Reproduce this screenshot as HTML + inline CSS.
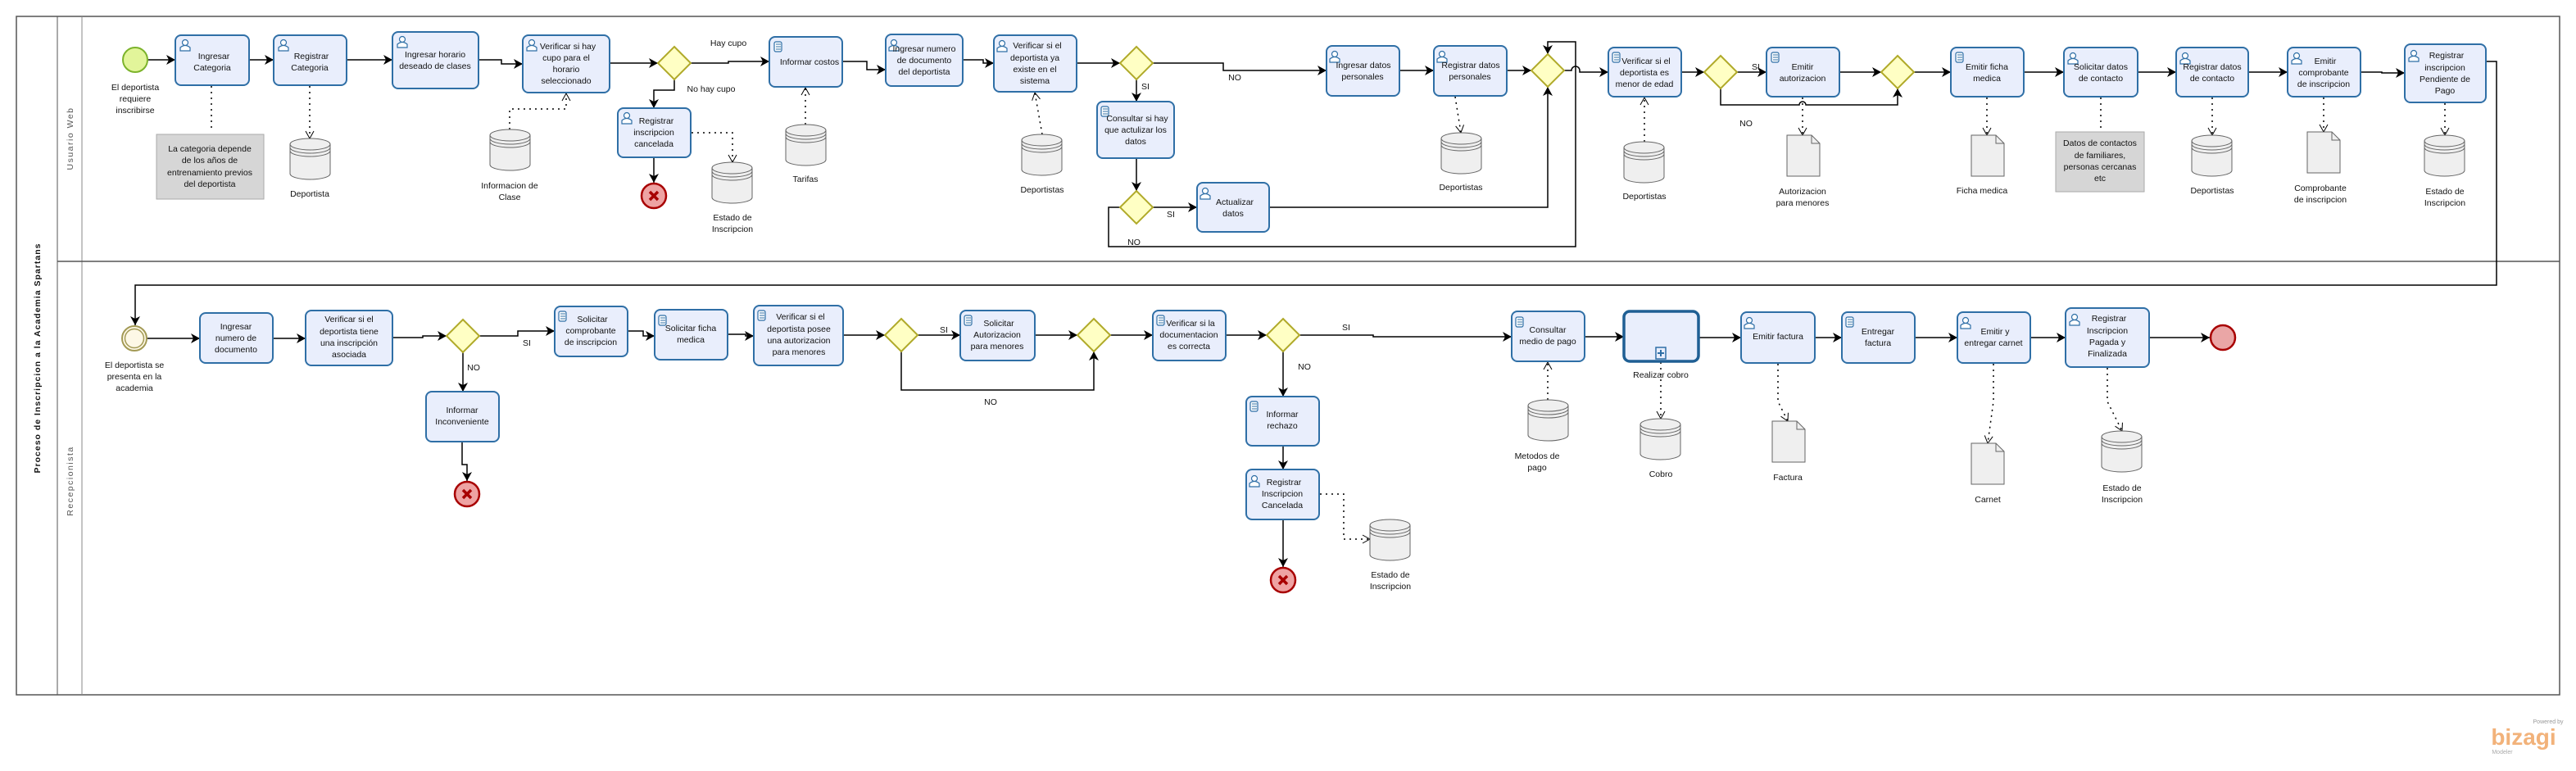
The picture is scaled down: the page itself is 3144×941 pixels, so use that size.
<!DOCTYPE html>
<html><head><meta charset="utf-8"><style>
body{margin:0;background:#fff}
svg{display:block}
text{font-family:"Liberation Sans",sans-serif;font-size:10.5px;fill:#111;text-anchor:middle}
.tk{fill:#e9eefc;stroke:#2f6fa6;stroke-width:2}
.gw{fill:#ffffc4;stroke:#b0aa2a;stroke-width:2}
.fl{fill:none;stroke:#000;stroke-width:1.5;marker-end:url(#ar)}
.fn{fill:none;stroke:#000;stroke-width:1.5}
.as{fill:none;stroke:#000;stroke-width:1.5;stroke-dasharray:2 5}
.asa{fill:none;stroke:#000;stroke-width:1.5;stroke-dasharray:2 5;marker-end:url(#oa)}
</style></head><body>
<svg width="3144" height="941" viewBox="0 0 3144 941" xmlns="http://www.w3.org/2000/svg">
<defs>
<marker id="ar" markerUnits="userSpaceOnUse" markerWidth="12" markerHeight="12" refX="11" refY="6" orient="auto"><path d="M0,0 L11,6 L0,12 L3,6z" fill="#000"/></marker>
<marker id="oa" markerUnits="userSpaceOnUse" markerWidth="12" markerHeight="12" refX="10" refY="6" orient="auto"><path d="M1,1 L10,6 L1,11" fill="none" stroke="#000" stroke-width="1"/></marker>
<g id="db"><path d="M0,7 v36 a24.5,7 0 0 0 49,0 v-36" fill="#efefef" stroke="#666"/><ellipse cx="24.5" cy="7" rx="24.5" ry="7" fill="#efefef" stroke="#666"/><path d="M0,11 a24.5,7 0 0 0 49,0 M0,15 a24.5,7 0 0 0 49,0" fill="none" stroke="#666"/></g>
<g id="doc"><path d="M0,0 h30 l10,10 v40 h-40z" fill="#efefef" stroke="#666"/><path d="M30,0 v10 h10" fill="none" stroke="#666"/></g>
<g id="usr"><circle cx="7" cy="5" r="3.5" fill="#fff" stroke="#2f6fa6" stroke-width="1.2"/><path d="M1,15 v-4 q6,-5 12,0 v4z" fill="#fff" stroke="#2f6fa6" stroke-width="1.2"/></g>
<g id="scr"><rect x="2" y="1" width="9" height="12" rx="2" fill="#fff" stroke="#2f6fa6" stroke-width="1.2"/><path d="M4,4h6M4,7h6M4,10h6" stroke="#2f6fa6" stroke-width="1"/></g>
<g id="end"><circle r="15" fill="#eea3a3" stroke="#a80000" stroke-width="2.5"/><path d="M-5,-5 L5,5 M5,-5 L-5,5" stroke="#a80000" stroke-width="3.5"/></g>
</defs>

<!-- pool -->
<rect x="20" y="20" width="3104" height="828" fill="none" stroke="#555" stroke-width="1.5"/>
<line x1="70" y1="20" x2="70" y2="848" stroke="#555"/>
<line x1="100" y1="20" x2="100" y2="848" stroke="#888"/>
<line x1="70" y1="319" x2="3124" y2="319" stroke="#555" stroke-width="1.5"/>
<text transform="translate(49,437) rotate(-90)" style="font-weight:bold;font-size:10.5px;letter-spacing:1px">Proceso de Inscripcion a la Academia Spartans</text>
<text transform="translate(89,169) rotate(-90)" style="fill:#555;letter-spacing:1.5px">Usuario Web</text>
<text transform="translate(89,587) rotate(-90)" style="fill:#555;letter-spacing:1.5px">Recepcionista</text>

<!-- lane 1 flows -->
<path class="fl" d="M181,73 H214"/>
<path class="fl" d="M304,73 H334"/>
<path class="fl" d="M423,73 H479"/>
<path class="fl" d="M584,73 H612 V78 H638"/>
<path class="fl" d="M744,77 H803"/>
<path class="fl" d="M843,77 H889 V75 H939"/>
<path class="fl" d="M823,97 V110 H798 V132"/>
<path class="fl" d="M798,192 V223"/>
<path class="fl" d="M1028,75 H1058 V85 H1081"/>
<path class="fl" d="M1175,73 H1200 V77 H1213"/>
<path class="fl" d="M1314,77 H1367"/>
<path class="fl" d="M1407,77 H1493 V86 H1619"/>
<path class="fl" d="M1387,97 V124"/>
<path class="fl" d="M1387,193 V233"/>
<path class="fl" d="M1407,253 H1461"/>
<path class="fl" d="M1549,253 H1889 V106"/>
<path class="fl" d="M1367,253 H1353 V301 H1923 V51 H1889 V66"/>
<path class="fl" d="M1708,86 H1750"/>
<path class="fl" d="M1839,86 H1869"/>
<path class="fl" d="M1909,86 H1918 A5,5 0 0 1 1928,86 V88 H1963"/>
<path class="fl" d="M2052,88 H2080"/>
<path class="fl" d="M2120,88 H2156"/>
<path class="fl" d="M2100,108 V128 H2196 A4,4 0 0 1 2204,128 H2316 V108"/>
<path class="fl" d="M2245,88 H2296"/>
<path class="fl" d="M2336,88 H2381"/>
<path class="fl" d="M2470,88 H2519"/>
<path class="fl" d="M2609,88 H2656"/>
<path class="fl" d="M2744,88 H2792"/>
<path class="fl" d="M2881,88 H2907 V89 H2935"/>
<path class="fl" d="M3034,75 H3047 V348 H165 V397"/>

<!-- lane 1 associations -->
<path class="as" d="M258,105 V160"/>
<path class="asa" d="M378,105 V169"/>
<path class="asa" d="M622,158 V133 H691 V114"/>
<path class="asa" d="M844,162 H894 V198"/>
<path class="asa" d="M983,152 V107"/>
<path class="asa" d="M1272,164 L1263,113"/>
<path class="asa" d="M1776,118 L1783,162"/>
<path class="asa" d="M2007,173 V119"/>
<path class="asa" d="M2200,119 V165"/>
<path class="asa" d="M2425,119 V165"/>
<path class="as" d="M2564,119 V158"/>
<path class="asa" d="M2700,119 V165"/>
<path class="asa" d="M2836,119 V161"/>
<path class="asa" d="M2984,126 V165"/>

<!-- lane 1 shapes -->
<circle cx="165" cy="73" r="15" fill="#e2f59a" stroke="#7cb32b" stroke-width="2"/>
<text x="165" y="110">El deportista</text><text x="165" y="124">requiere</text><text x="165" y="138">inscribirse</text>

<rect class="tk" x="214" y="43" width="90" height="61" rx="7"/><use href="#usr" x="219" y="47"/><text x="261" y="72">Ingresar</text><text x="259" y="86">Categoria</text>
<rect class="tk" x="334" y="43" width="89" height="61" rx="7"/><use href="#usr" x="339" y="47"/><text x="380" y="72">Registrar</text><text x="378" y="86">Categoria</text>
<rect class="tk" x="479" y="39" width="105" height="69" rx="7"/><use href="#usr" x="484" y="43"/><text x="531" y="70">Ingresar horario</text><text x="531" y="84">deseado de clases</text>
<rect class="tk" x="638" y="43" width="106" height="70" rx="7"/><use href="#usr" x="642" y="47"/><text x="693" y="60">Verificar si hay</text><text x="691" y="74">cupo para el</text><text x="691" y="88">horario</text><text x="691" y="102">seleccionado</text>
<path class="gw" d="M823,57 L843,77 L823,97 L803,77z"/>
<text x="889" y="56">Hay cupo</text><text x="868" y="112">No hay cupo</text>
<rect class="tk" x="754" y="132" width="89" height="60" rx="7"/><use href="#usr" x="758" y="136"/><text x="801" y="151">Registrar</text><text x="798" y="165">inscripcion</text><text x="798" y="179">cancelada</text>
<use href="#end" x="798" y="239"/>
<rect class="tk" x="939" y="45" width="89" height="61" rx="7"/><use href="#scr" x="943" y="50"/><text x="988" y="79">Informar costos</text>
<rect class="tk" x="1081" y="42" width="94" height="63" rx="7"/><use href="#usr" x="1084" y="47"/><text x="1128" y="63">Ingresar numero</text><text x="1128" y="77">de documento</text><text x="1128" y="91">del deportista</text>
<rect class="tk" x="1213" y="43" width="101" height="69" rx="7"/><use href="#usr" x="1216" y="48"/><text x="1266" y="59">Verificar si el</text><text x="1263" y="74">deportista ya</text><text x="1263" y="88">existe en el</text><text x="1263" y="102">sistema</text>
<path class="gw" d="M1387,57 L1407,77 L1387,97 L1367,77z"/>
<text x="1507" y="98">NO</text><text x="1398" y="109">SI</text>
<rect class="tk" x="1339" y="124" width="94" height="69" rx="7"/><use href="#scr" x="1342" y="129"/><text x="1388" y="148">Consultar si hay</text><text x="1386" y="162">que actulizar los</text><text x="1386" y="176">datos</text>
<path class="gw" d="M1387,233 L1407,253 L1387,273 L1367,253z"/>
<text x="1429" y="265">SI</text><text x="1384" y="299">NO</text>
<rect class="tk" x="1461" y="223" width="88" height="60" rx="7"/><use href="#usr" x="1464" y="228"/><text x="1507" y="250">Actualizar</text><text x="1505" y="264">datos</text>
<rect class="tk" x="1619" y="56" width="89" height="61" rx="7"/><use href="#usr" x="1622" y="61"/><text x="1664" y="83">Ingresar datos</text><text x="1663" y="97">personales</text>
<rect class="tk" x="1750" y="56" width="89" height="61" rx="7"/><use href="#usr" x="1753" y="61"/><text x="1795" y="83">Registrar datos</text><text x="1794" y="97">personales</text>
<path class="gw" d="M1889,66 L1909,86 L1889,106 L1869,86z"/>
<rect class="tk" x="1963" y="58" width="89" height="60" rx="7"/><use href="#scr" x="1966" y="63"/><text x="2009" y="78">Verificar si el</text><text x="2007" y="92">deportista es</text><text x="2007" y="106">menor de edad</text>
<path class="gw" d="M2100,68 L2120,88 L2100,108 L2080,88z"/>
<text x="2143" y="85">SI</text><text x="2131" y="154">NO</text>
<rect class="tk" x="2156" y="58" width="89" height="60" rx="7"/><use href="#scr" x="2160" y="63"/><text x="2200" y="85">Emitir</text><text x="2200" y="99">autorizacion</text>
<path class="gw" d="M2316,68 L2336,88 L2316,108 L2296,88z"/>
<rect class="tk" x="2381" y="58" width="89" height="60" rx="7"/><use href="#scr" x="2385" y="63"/><text x="2425" y="85">Emitir ficha</text><text x="2425" y="99">medica</text>
<rect class="tk" x="2519" y="58" width="90" height="60" rx="7"/><use href="#usr" x="2523" y="63"/><text x="2564" y="85">Solicitar datos</text><text x="2564" y="99">de contacto</text>
<rect class="tk" x="2656" y="58" width="88" height="60" rx="7"/><use href="#usr" x="2660" y="63"/><text x="2700" y="85">Registrar datos</text><text x="2700" y="99">de contacto</text>
<rect class="tk" x="2792" y="58" width="89" height="60" rx="7"/><use href="#usr" x="2796" y="63"/><text x="2838" y="78">Emitir</text><text x="2836" y="92">comprobante</text><text x="2836" y="106">de inscripcion</text>
<rect class="tk" x="2935" y="54" width="99" height="71" rx="7"/><use href="#usr" x="2939" y="60"/><text x="2986" y="71">Registrar</text><text x="2984" y="86">inscripcion</text><text x="2984" y="100">Pendiente de</text><text x="2984" y="114">Pago</text>

<rect x="191" y="164" width="131" height="79" fill="#d6d6d6" stroke="#aaa"/>
<text x="256" y="185">La categoria depende</text><text x="256" y="199">de los años de</text><text x="256" y="214">entrenamiento previos</text><text x="256" y="228">del deportista</text>
<use href="#db" x="354" y="169"/><text x="378" y="240">Deportista</text>
<use href="#db" x="598" y="158"/><text x="622" y="230">Informacion de</text><text x="622" y="244">Clase</text>
<use href="#db" x="869" y="198"/><text x="894" y="269">Estado de</text><text x="894" y="283">Inscripcion</text>
<use href="#db" x="959" y="152"/><text x="983" y="222">Tarifas</text>
<use href="#db" x="1247" y="164"/><text x="1272" y="235">Deportistas</text>
<use href="#db" x="1759" y="162"/><text x="1783" y="232">Deportistas</text>
<use href="#db" x="1982" y="173"/><text x="2007" y="243">Deportistas</text>
<use href="#doc" x="2181" y="165"/><text x="2200" y="237">Autorizacion</text><text x="2200" y="251">para menores</text>
<use href="#doc" x="2406" y="165"/><text x="2419" y="236">Ficha medica</text>
<rect x="2509" y="161" width="108" height="73" fill="#d6d6d6" stroke="#aaa"/>
<text x="2563" y="178">Datos de contactos</text><text x="2563" y="193">de familiares,</text><text x="2563" y="207">personas cercanas</text><text x="2563" y="221">etc</text>
<use href="#db" x="2675" y="165"/><text x="2700" y="236">Deportistas</text>
<use href="#doc" x="2816" y="161"/><text x="2832" y="233">Comprobante</text><text x="2832" y="247">de inscripcion</text>
<use href="#db" x="2959" y="165"/><text x="2984" y="237">Estado de</text><text x="2984" y="251">Inscripcion</text>

<!-- lane 2 flows -->
<path class="fl" d="M179,413 H244"/>
<path class="fl" d="M333,413 H373"/>
<path class="fl" d="M479,412 H516 V410 H545"/>
<path class="fl" d="M585,410 H632 V404 H677"/>
<path class="fl" d="M565,430 V478"/>
<path class="fl" d="M564,539 V567 H570 V587"/>
<path class="fl" d="M766,404 H785 V410 H799"/>
<path class="fl" d="M888,408 H910 V410 H920"/>
<path class="fl" d="M1029,409 H1080"/>
<path class="fl" d="M1120,409 H1172"/>
<path class="fl" d="M1263,409 H1315"/>
<path class="fl" d="M1100,429 V476 H1335 V429"/>
<path class="fl" d="M1355,409 H1407"/>
<path class="fl" d="M1496,409 H1546"/>
<path class="fl" d="M1586,409 H1676 V411 H1845"/>
<path class="fl" d="M1566,429 V484"/>
<path class="fl" d="M1566,544 V573"/>
<path class="fl" d="M1566,634 V692"/>
<path class="fl" d="M1934,411 H1982"/>
<path class="fl" d="M2073,412 H2125"/>
<path class="fl" d="M2215,412 H2248"/>
<path class="fl" d="M2337,412 H2389"/>
<path class="fl" d="M2478,412 H2521"/>
<path class="fl" d="M2623,412 H2697"/>

<!-- lane 2 associations -->
<path class="asa" d="M1611,603 H1640 V658 H1672"/>
<path class="asa" d="M1889,488 V442"/>
<path class="asa" d="M2027,442 V511"/>
<path class="asa" d="M2170,444 V490 L2182,514"/>
<path class="asa" d="M2433,444 V490 L2426,541"/>
<path class="asa" d="M2572,449 V490 L2590,526"/>

<!-- lane 2 shapes -->
<circle cx="164" cy="413" r="15" fill="#fdf8e6" stroke="#a39a55" stroke-width="2"/>
<circle cx="164" cy="413" r="11.5" fill="none" stroke="#a39a55" stroke-width="1.5"/>
<text x="164" y="449">El deportista se</text><text x="164" y="463">presenta en la</text><text x="164" y="477">academia</text>
<rect class="tk" x="244" y="382" width="89" height="61" rx="7"/><text x="288" y="402">Ingresar</text><text x="288" y="416">numero de</text><text x="288" y="430">documento</text>
<rect class="tk" x="373" y="379" width="106" height="67" rx="7"/><text x="426" y="393">Verificar si el</text><text x="426" y="408">deportista tiene</text><text x="426" y="422">una inscripción</text><text x="426" y="436">asociada</text>
<path class="gw" d="M565,390 L585,410 L565,430 L545,410z"/>
<text x="643" y="422">SI</text><text x="578" y="452">NO</text>
<rect class="tk" x="520" y="478" width="89" height="61" rx="7"/><text x="564" y="504">Informar</text><text x="564" y="518">Inconveniente</text>
<use href="#end" x="570" y="603"/>
<rect class="tk" x="677" y="374" width="89" height="61" rx="7"/><use href="#scr" x="680" y="379"/><text x="723" y="393">Solicitar</text><text x="721" y="407">comprobante</text><text x="721" y="421">de inscripcion</text>
<rect class="tk" x="799" y="378" width="89" height="61" rx="7"/><use href="#scr" x="802" y="384"/><text x="843" y="404">Solicitar ficha</text><text x="843" y="418">medica</text>
<rect class="tk" x="920" y="373" width="109" height="73" rx="7"/><use href="#scr" x="923" y="378"/><text x="977" y="390">Verificar si el</text><text x="975" y="405">deportista posee</text><text x="975" y="419">una autorizacion</text><text x="975" y="433">para menores</text>
<path class="gw" d="M1100,389 L1120,409 L1100,429 L1080,409z"/>
<text x="1152" y="406">SI</text><text x="1209" y="494">NO</text>
<rect class="tk" x="1172" y="379" width="91" height="61" rx="7"/><use href="#scr" x="1175" y="384"/><text x="1219" y="398">Solicitar</text><text x="1217" y="412">Autorizacion</text><text x="1217" y="426">para menores</text>
<path class="gw" d="M1335,389 L1355,409 L1335,429 L1315,409z"/>
<rect class="tk" x="1407" y="379" width="89" height="61" rx="7"/><use href="#scr" x="1410" y="384"/><text x="1453" y="398">Verificar si la</text><text x="1451" y="412">documentacion</text><text x="1451" y="426">es correcta</text>
<path class="gw" d="M1566,389 L1586,409 L1566,429 L1546,409z"/>
<text x="1643" y="403">SI</text><text x="1592" y="451">NO</text>
<rect class="tk" x="1521" y="484" width="89" height="60" rx="7"/><use href="#scr" x="1524" y="489"/><text x="1565" y="509">Informar</text><text x="1565" y="523">rechazo</text>
<rect class="tk" x="1521" y="573" width="89" height="61" rx="7"/><use href="#usr" x="1524" y="579"/><text x="1567" y="592">Registrar</text><text x="1565" y="606">Inscripcion</text><text x="1565" y="620">Cancelada</text>
<use href="#end" x="1566" y="708"/>
<use href="#db" x="1672" y="634"/><text x="1697" y="705">Estado de</text><text x="1697" y="719">Inscripcion</text>
<rect class="tk" x="1845" y="380" width="89" height="61" rx="7"/><use href="#scr" x="1848" y="386"/><text x="1889" y="406">Consultar</text><text x="1889" y="420">medio de pago</text>
<rect x="1982" y="380" width="91" height="61" rx="7" fill="#e9eefc" stroke="#1f5f94" stroke-width="3.5"/>
<rect x="2021" y="424" width="12" height="14" fill="#e9eefc" stroke="#2f6fa6" stroke-width="1.5"/><path d="M2027,427 v8 M2023,431 h8" stroke="#2f6fa6" stroke-width="2"/>
<text x="2027" y="461">Realizar cobro</text>
<use href="#db" x="1865" y="488"/><text x="1876" y="560">Metodos de</text><text x="1876" y="574">pago</text>
<use href="#db" x="2002" y="511"/><text x="2027" y="582">Cobro</text>
<rect class="tk" x="2125" y="381" width="90" height="62" rx="7"/><use href="#usr" x="2128" y="386"/><text x="2170" y="414">Emitir factura</text>
<rect class="tk" x="2248" y="381" width="89" height="62" rx="7"/><use href="#scr" x="2251" y="386"/><text x="2292" y="408">Entregar</text><text x="2292" y="422">factura</text>
<rect class="tk" x="2389" y="381" width="89" height="62" rx="7"/><use href="#usr" x="2392" y="386"/><text x="2435" y="408">Emitir y</text><text x="2433" y="422">entregar carnet</text>
<rect class="tk" x="2521" y="376" width="102" height="72" rx="7"/><use href="#usr" x="2525" y="382"/><text x="2574" y="392">Registrar</text><text x="2572" y="407">Inscripcion</text><text x="2572" y="421">Pagada y</text><text x="2572" y="435">Finalizada</text>
<circle cx="2713" cy="412" r="15" fill="#eaa6a6" stroke="#a80000" stroke-width="2.5"/>
<use href="#doc" x="2163" y="514"/><text x="2182" y="586">Factura</text>
<use href="#doc" x="2406" y="541"/><text x="2426" y="613">Carnet</text>
<use href="#db" x="2565" y="526"/><text x="2590" y="599">Estado de</text><text x="2590" y="613">Inscripcion</text>

<!-- logo -->
<text x="3110" y="883" style="font-size:7px;fill:#999">Powered by</text>
<text x="3080" y="909" style="font-size:28px;fill:#f2b27a;font-weight:bold">bizagi</text>
<text x="3054" y="920" style="font-size:7px;fill:#aaa">Modeler</text>
</svg>
</body></html>
